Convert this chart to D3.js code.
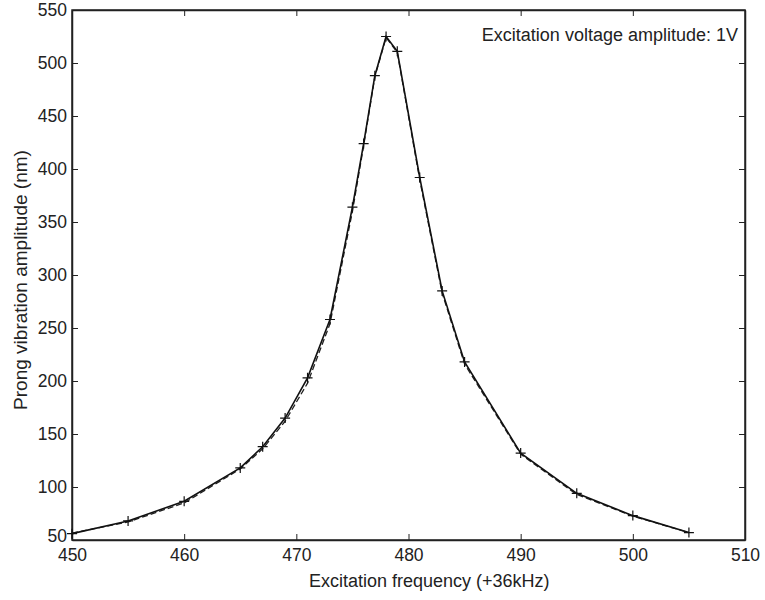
<!DOCTYPE html>
<html>
<head>
<meta charset="utf-8">
<title>Prong vibration</title>
<script src="https://d3js.org/d3.v7.min.js"></script>
<style>
  body { margin: 0; background: #fff; }
  text { font-family: "Liberation Sans", Arial, sans-serif; fill: #222; }
</style>
</head>
<body>
<svg id="chart" width="765" height="600"></svg>
<script>
// measured points (+36kHz offset)
var freq = [450, 455, 460, 465, 467, 469, 471, 473, 475, 476, 477, 478, 479, 481, 483, 485, 490, 495, 500, 505];
var amp  = [56, 68, 86.5, 118, 138, 165, 203, 258, 364, 424, 488, 525, 511, 392, 285, 218, 132, 94, 73, 57];
// dashed companion curve (nearly on top of the measured one)
var ampDash = [56.5, 67, 85, 117, 136, 162, 198, 254, 360, 422, 487, 524, 510, 390, 283, 216, 131, 93, 72.5, 57];

var xTicks = [450, 460, 470, 480, 490, 500, 510];
var yTicks = [50, 100, 150, 200, 250, 300, 350, 400, 450, 500, 550];

var m = {left: 72, right: 20, top: 10, bottom: 60};
var W = 765, H = 600;
var svg = d3.select("#chart");

var x = d3.scaleLinear().domain([450, 510]).range([m.left, W - m.right]);
var y = d3.scaleLinear().domain([50, 550]).range([H - m.bottom, m.top]);

var tickLen = 6;
// axes with inward ticks
svg.append("g").attr("transform", "translate(0," + y(50) + ")")
  .call(d3.axisBottom(x).tickValues(xTicks).tickSizeInner(-tickLen).tickSizeOuter(0).tickPadding(9))
  .call(g => g.selectAll("text").attr("font-size", 17.5));
svg.append("g").attr("transform", "translate(0," + y(550) + ")")
  .call(d3.axisTop(x).tickValues(xTicks).tickSizeInner(-tickLen).tickSizeOuter(0).tickFormat(""));
svg.append("g").attr("transform", "translate(" + x(450) + ",0)")
  .call(d3.axisLeft(y).tickValues(yTicks).tickSizeInner(-tickLen).tickSizeOuter(0).tickPadding(5))
  .call(g => g.selectAll("text").attr("font-size", 17.5))
  // lowest label sits just above the 450 label
  .call(g => g.selectAll(".tick").filter(d => d === 50).select("text").attr("dy", "0.1em"));
svg.append("g").attr("transform", "translate(" + x(510) + ",0)")
  .call(d3.axisRight(y).tickValues(yTicks).tickSizeInner(-tickLen).tickSizeOuter(0).tickFormat(""));

svg.selectAll(".domain").attr("stroke", "#222").attr("stroke-width", 1.5);
svg.selectAll(".tick line").attr("stroke", "#222");
svg.selectAll(".tick text").attr("fill", "#222");

// box
svg.append("rect")
  .attr("x", x(450)).attr("y", y(550))
  .attr("width", x(510) - x(450)).attr("height", y(50) - y(550))
  .attr("fill", "none").attr("stroke", "#222").attr("stroke-width", 1.5);

var line = d3.line().x(d => x(d[0])).y(d => y(d[1]));

svg.append("path")
  .attr("d", line(freq.map((f, i) => [f, ampDash[i]])))
  .attr("fill", "none").attr("stroke", "#222").attr("stroke-width", 1.3)
  .attr("stroke-dasharray", "6,3");

svg.append("path")
  .attr("d", line(freq.map((f, i) => [f, amp[i]])))
  .attr("fill", "none").attr("stroke", "#111").attr("stroke-width", 1.6);

// + markers
var s = 5;
svg.append("g").selectAll("path.mk")
  .data(freq.map((f, i) => [f, amp[i]]))
  .join("path")
  .attr("d", d => "M" + (x(d[0]) - s) + "," + y(d[1]) + "h" + (2 * s) + "M" + x(d[0]) + "," + (y(d[1]) - s) + "v" + (2 * s))
  .attr("stroke", "#111").attr("stroke-width", 1.2).attr("fill", "none");

// labels
svg.append("text")
  .attr("x", 309).attr("y", 587)
  .attr("text-anchor", "start").attr("font-size", 18)
  .text("Excitation frequency (+36kHz)");

svg.append("text")
  .attr("transform", "translate(27,280) rotate(-90)")
  .attr("text-anchor", "middle").attr("font-size", 19)
  .text("Prong vibration amplitude (nm)");

svg.append("text")
  .attr("x", 738).attr("y", 41)
  .attr("text-anchor", "end").attr("font-size", 18)
  .text("Excitation voltage amplitude: 1V");
</script>
</body>
</html>
